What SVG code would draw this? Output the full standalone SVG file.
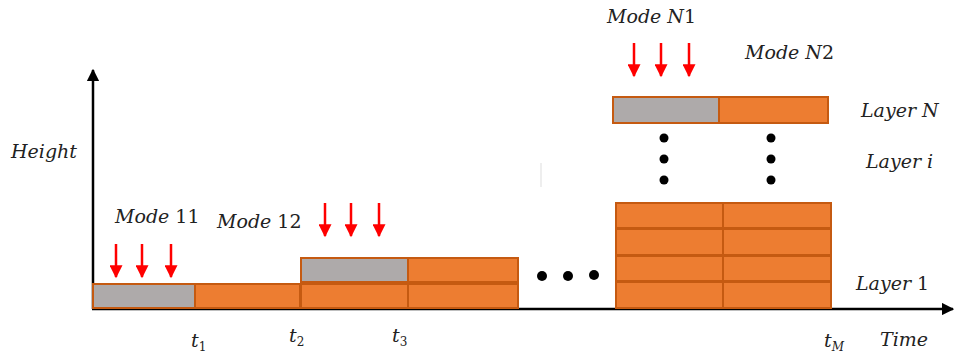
<svg xmlns="http://www.w3.org/2000/svg" width="958" height="358" viewBox="0 0 958 358">
<style>
.t{font-family:"DejaVu Serif","Liberation Serif",serif;font-style:italic;font-size:19px;fill:#222}
.n{font-style:normal}
.sub{font-size:12px;font-style:normal}
.subi{font-size:12px;font-style:italic}
.o{fill:#ED7D31;stroke:#C55A11;stroke-width:2}
.g{fill:#AEAAAA;stroke:#C55A11;stroke-width:2}
.ax{stroke:#000;stroke-width:2.5;fill:none}
.ar{stroke:#FF0000;stroke-width:2.5;fill:none}
.dot{fill:#000}
</style>
<defs>
<marker id="ra" viewBox="0 0 10 10" refX="9" refY="5" markerWidth="6" markerHeight="5.2" markerUnits="strokeWidth" orient="auto">
<path d="M0,0 L10,5 L0,10 z" fill="#FF0000"/>
</marker>
<marker id="ka" viewBox="0 0 10 10" refX="9" refY="5" markerWidth="5" markerHeight="5" markerUnits="strokeWidth" orient="auto">
<path d="M0,0 L10,5 L0,10 z" fill="#000"/>
</marker>
</defs>
<g id="connectors">
<line class="ax" x1="93" y1="309" x2="93" y2="70" marker-end="url(#ka)"/>
<line class="ax" x1="92" y1="309" x2="953" y2="309" marker-end="url(#ka)"/>
<line class="ar" x1="116" y1="244" x2="116" y2="277" marker-end="url(#ra)"/>
<line class="ar" x1="142" y1="244" x2="142" y2="277" marker-end="url(#ra)"/>
<line class="ar" x1="171" y1="244" x2="171" y2="277" marker-end="url(#ra)"/>
<line class="ar" x1="325" y1="203" x2="325" y2="236" marker-end="url(#ra)"/>
<line class="ar" x1="351" y1="203" x2="351" y2="236" marker-end="url(#ra)"/>
<line class="ar" x1="379" y1="203" x2="379" y2="236" marker-end="url(#ra)"/>
<line class="ar" x1="634" y1="43" x2="634" y2="76" marker-end="url(#ra)"/>
<line class="ar" x1="661" y1="43" x2="661" y2="76" marker-end="url(#ra)"/>
<line class="ar" x1="689" y1="43" x2="689" y2="76" marker-end="url(#ra)"/>
</g>
<g id="mode11">
<rect class="g" x="93" y="284" width="102" height="24"/>
<text class="t" x="115" y="223">Mode <tspan class="n">11</tspan></text>
</g>
<g id="block1">
<rect class="o" x="195" y="284" width="105" height="24"/>
</g>
<g id="mode12">
<rect class="o" x="301" y="284" width="107" height="24"/>
<rect class="g" x="301" y="258" width="107" height="24"/>
<text class="t" x="217" y="228">Mode <tspan class="n">12</tspan></text>
</g>
<g id="block3">
<rect class="o" x="408" y="284" width="110" height="24"/>
<rect class="o" x="408" y="258" width="110" height="24"/>
</g>
<g id="hdots">
<circle class="dot" cx="542" cy="276" r="5"/>
<circle class="dot" cx="568" cy="276" r="5"/>
<circle class="dot" cx="594" cy="275" r="5"/>
</g>
<line x1="541" y1="163" x2="541" y2="187" stroke="#ddd" stroke-width="1"/>
<g id="stackM">
<rect class="o" x="616" y="282" width="107" height="26"/>
<rect class="o" x="723" y="282" width="108" height="26"/>
<rect class="o" x="616" y="256" width="107" height="25"/>
<rect class="o" x="723" y="256" width="108" height="25"/>
<rect class="o" x="616" y="229" width="107" height="26"/>
<rect class="o" x="723" y="229" width="108" height="26"/>
<rect class="o" x="616" y="203" width="107" height="25"/>
<rect class="o" x="723" y="203" width="108" height="25"/>
</g>
<g id="layerN">
<rect class="g" x="613" y="97" width="106" height="26"/>
<rect class="o" x="719" y="97" width="109" height="26"/>
<text class="t" x="607" y="23">Mode N<tspan class="n">1</tspan></text>
<text class="t" x="745" y="59">Mode N<tspan class="n">2</tspan></text>
</g>
<g id="vdots">
<circle class="dot" cx="664" cy="138" r="4.5"/>
<circle class="dot" cx="664" cy="159" r="4.5"/>
<circle class="dot" cx="664" cy="180" r="4.5"/>
<circle class="dot" cx="771" cy="138" r="4.5"/>
<circle class="dot" cx="771" cy="159" r="4.5"/>
<circle class="dot" cx="771" cy="180" r="4.5"/>
</g>
<g id="labels">
<text class="t" x="11" y="158">Height</text>
<text class="t" x="861" y="117">Layer N</text>
<text class="t" x="866" y="168">Layer i</text>
<text class="t" x="856" y="290">Layer <tspan class="n">1</tspan></text>
<text class="t" x="880" y="346">Time</text>
<text class="t" x="191" y="347">t<tspan class="sub" dy="4">1</tspan></text>
<text class="t" x="289" y="342">t<tspan class="sub" dy="4">2</tspan></text>
<text class="t" x="392" y="342">t<tspan class="sub" dy="4">3</tspan></text>
<text class="t" x="824" y="347">t<tspan class="subi" dy="4">M</tspan></text>
</g>
</svg>
